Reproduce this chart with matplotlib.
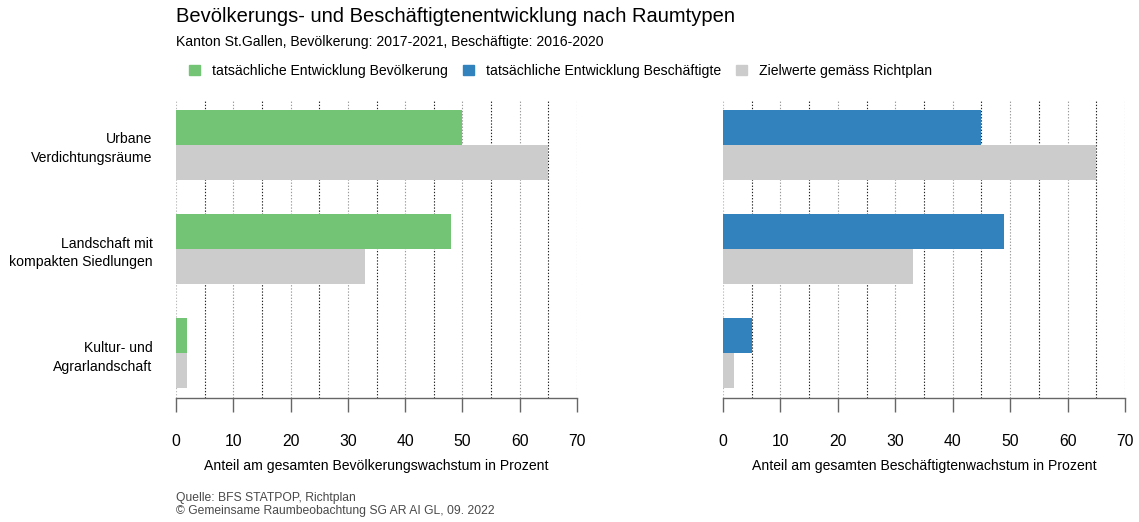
import numpy as np
from matplotlib import pyplot as plt
from matplotlib.patches import Patch

plt.rcParams['font.family'] = ['Liberation Sans', 'DejaVu Sans']

categories = ['Urbane\nVerdichtungsräume', 'Landschaft mit\nkompakten Siedlungen', 'Kultur- und\nAgrarlandschaft']
bev_ist = [50, 48, 2]
bev_ziel = [65, 33, 2]
besch_ist = [45, 49, 5]
besch_ziel = [65, 33, 2]
xticks = [0, 10, 20, 30, 40, 50, 60, 70]

green = '#74c476'
blue = '#3182bd'
grey = '#cccccc'

fig = plt.figure(figsize=(11.39, 5.22), dpi=100)
ax1 = fig.add_axes([176 / 1139, 1 - 398 / 522, 401 / 1139, 298 / 522])
ax2 = fig.add_axes([723 / 1139, 1 - 398 / 522, 402 / 1139, 298 / 522])

y = np.arange(len(categories))
h = 1 / 3


def draw_panel(ax, ist, ziel, col, xlabel):
    ax.barh(y - h / 2, ist, height=h, color=col, zorder=3)
    ax.barh(y + h / 2, ziel, height=h, color=grey, zorder=3)
    # gepunktete Gitterlinien alle 5 Prozent
    for v in range(5, 75, 5):
        c = '#222222' if v % 10 else '#9a9a9a'
        ax.axvline(v, color=c, linestyle=(0, (1.2, 1.6)), linewidth=0.8, zorder=1)
    ax.axvline(0, color='#bbbbbb', linestyle=(0, (1.2, 1.6)), linewidth=0.8, zorder=1)
    ax.set_xlim(0, 70)
    ax.set_ylim(2.43, -0.43)
    for s in ['top', 'right', 'left']:
        ax.spines[s].set_visible(False)
    ax.spines['bottom'].set_color('#666666')
    ax.spines['bottom'].set_linewidth(1.0)
    ax.set_xticks(xticks)
    ax.tick_params(axis='x', length=10, width=1.0, color='#666666', pad=16,
                   labelsize=11.3, labelcolor='black')
    ax.set_xlabel(xlabel, fontsize=10.1, labelpad=7)
    ax.set_yticks(y)
    ax.tick_params(axis='y', length=0, pad=17, labelsize=10.1)


draw_panel(ax1, bev_ist, bev_ziel, green, 'Anteil am gesamten Bevölkerungswachstum in Prozent')
ax1.set_yticklabels(categories, ha='right', multialignment='right', linespacing=1.45)
draw_panel(ax2, besch_ist, besch_ziel, blue, 'Anteil am gesamten Beschäftigtenwachstum in Prozent')
ax2.set_yticklabels([])

fig.text(176 / 1139, 1 - 17 / 522, 'Bevölkerungs- und Beschäftigtenentwicklung nach Raumtypen',
         fontsize=14.5, va='center', ha='left')
fig.text(176 / 1139, 1 - 42 / 522, 'Kanton St.Gallen, Bevölkerung: 2017-2021, Beschäftigte: 2016-2020',
         fontsize=10.1, va='center', ha='left')

handles = [Patch(color=green), Patch(color=blue), Patch(color=grey)]
labels = ['tatsächliche Entwicklung Bevölkerung', 'tatsächliche Entwicklung Beschäftigte',
          'Zielwerte gemäss Richtplan']
fig.legend(handles, labels, loc='center left', bbox_to_anchor=(189 / 1139, 1 - 71 / 522),
           ncol=3, frameon=False, fontsize=10.1, handlelength=0.75, handleheight=0.75,
           handletextpad=0.9, columnspacing=1.07, borderaxespad=0, borderpad=0)

fig.text(176 / 1139, 1 - 498 / 522, 'Quelle: BFS STATPOP, Richtplan', fontsize=8.7,
         color='#4a4a4a', va='center', ha='left')
fig.text(176 / 1139, 1 - 511 / 522, '© Gemeinsame Raumbeobachtung SG AR AI GL, 09. 2022', fontsize=8.7,
         color='#4a4a4a', va='center', ha='left')

fig.savefig('out.png', dpi=100)
